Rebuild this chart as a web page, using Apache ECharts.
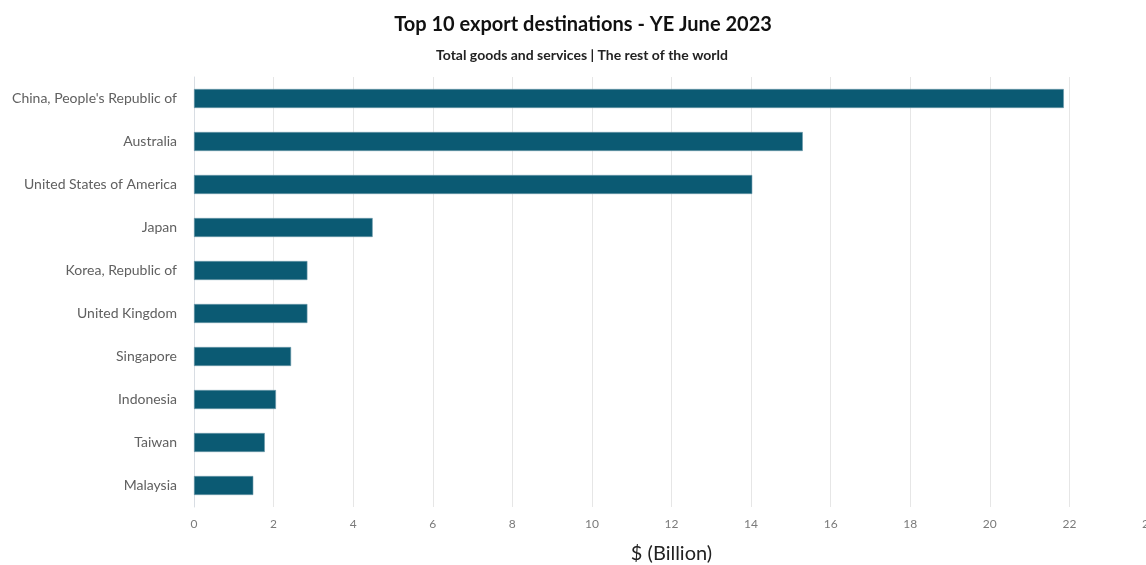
<!DOCTYPE html>
<html>
<head>
<meta charset="utf-8">
<script src="https://cdn.jsdelivr.net/npm/echarts@6/dist/echarts.min.js"></script>
<style>
  html, body { margin: 0; padding: 0; background: #ffffff; }
  #chart { width: 1146px; height: 565px; }
</style>
</head>
<body>
<div id="chart"></div>
<script>
// Export destinations, year ended June 2023 ($ billion)
const countries = [
  "China, People's Republic of",
  "Australia",
  "United States of America",
  "Japan",
  "Korea, Republic of",
  "United Kingdom",
  "Singapore",
  "Indonesia",
  "Taiwan",
  "Malaysia"
];
const exportValues = [21.86, 15.3, 14.03, 4.49, 2.85, 2.85, 2.44, 2.06, 1.78, 1.49];
const xTicks = { min: 0, max: 24, step: 2 };

const chart = echarts.init(document.getElementById('chart'), null, { renderer: 'canvas' });

chart.setOption({
  backgroundColor: '#ffffff',
  animation: false,
  title: [
    {
      text: 'Top 10 export destinations - YE June 2023',
      left: 578, top: 10, textAlign: 'center',
      textStyle: { fontFamily: 'Lato', fontWeight: 'bold', fontSize: 20, color: '#111111' }
    },
    {
      text: 'Total goods and services | The rest of the world',
      left: 577, top: 43, textAlign: 'center',
      textStyle: { fontFamily: 'Lato', fontWeight: 'bold', fontSize: 14, color: '#222222' }
    }
  ],
  grid: {
    left: 194, top: 77, width: 955, height: 430,
    containLabel: false, outerBoundsMode: 'none'
  },
  xAxis: {
    type: 'value',
    min: xTicks.min, max: xTicks.max, interval: xTicks.step,
    name: '$ (Billion)',
    nameLocation: 'middle',
    nameGap: 37,
    nameTextStyle: { fontFamily: 'Lato', fontSize: 20, color: '#222222' },
    axisLine: { show: false },
    axisTick: { show: false },
    axisLabel: { fontFamily: 'Lato', fontSize: 12, color: '#7a7a7a', margin: 11 },
    splitLine: { show: true, lineStyle: { color: '#e6e6e6', width: 1 } }
  },
  yAxis: {
    type: 'category',
    inverse: true,
    data: countries,
    axisLine: { show: true, lineStyle: { color: '#d8dde3', width: 1 } },
    axisTick: { show: false },
    axisLabel: { fontFamily: 'Lato', fontSize: 14, color: '#606060', margin: 17 }
  },
  series: [{
    type: 'bar',
    data: exportValues,
    barWidth: 19,
    itemStyle: { color: '#0b5a73', borderColor: '#6f9aab', borderWidth: 0.6 }
  }]
});
</script>
</body>
</html>
